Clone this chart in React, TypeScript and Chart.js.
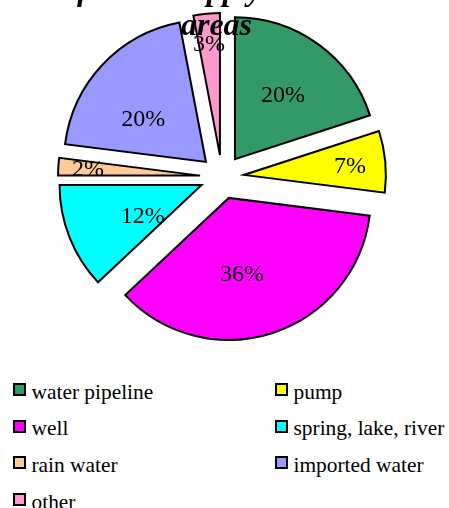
import React, { useEffect, useLayoutEffect, useRef, useState } from "react";
import { Chart, registerables } from "chart.js";

Chart.register(...registerables);

// ---- data ----
const categories = [
  "water pipeline",
  "pump",
  "well",
  "spring, lake, river",
  "rain water",
  "imported water",
  "other",
];
const shares = [20, 7, 36, 12, 2, 20, 3];
const sliceColors = ["#339966", "#FFFF00", "#FF00FF", "#00FFFF", "#FFCC99", "#9999FF", "#FF99CC"];
const titleLines = ["Sources", "of water supply in rural", "areas"];

// ---- label placement (style) ----
const labelRadius = [0.56, 0.75, 0.55, 0.47, 0.79, 0.53, 0.78];
const labelAngleShift = [1.3, 1.1, 8.3, -6.6, -0.7, -9.5, -0.3];

const EXPLODE = 22;
const RADIUS = 142;
const SERIF = "'Liberation Serif', 'Times New Roman', serif";

const explodePlugin = {
  id: "explodeSlices",
  afterDatasetsUpdate(chart: any) {
    const meta = chart.getDatasetMeta(0);
    meta.data.forEach((arc: any) => {
      const mid = (arc.startAngle + arc.endAngle) / 2;
      arc.x += Math.cos(mid) * EXPLODE;
      arc.y += Math.sin(mid) * EXPLODE;
    });
  },
};

const labelPlugin = {
  id: "sliceLabels",
  afterDatasetsDraw(chart: any) {
    const meta = chart.getDatasetMeta(0);
    const ctx = chart.ctx;
    ctx.save();
    ctx.font = `24px ${SERIF}`;
    ctx.fillStyle = "#000";
    ctx.textAlign = "center";
    ctx.textBaseline = "middle";
    meta.data.forEach((arc: any, i: number) => {
      const mid = (arc.startAngle + arc.endAngle) / 2 + (labelAngleShift[i] * Math.PI) / 180;
      const r = arc.outerRadius * labelRadius[i];
      ctx.fillText(`${shares[i]}%`, arc.x + Math.cos(mid) * r, arc.y + Math.sin(mid) * r);
    });
    ctx.restore();
  },
};

export default function App() {
  const canvasRef = useRef<HTMLCanvasElement | null>(null);
  const [err, setErr] = useState<string>("");

  useLayoutEffect(() => {
    const prev = document.body.style.margin;
    document.body.style.margin = "0";
    return () => {
      document.body.style.margin = prev;
    };
  }, []);

  useEffect(() => {
    if (!canvasRef.current) return;
    let chart: any = null;
    try {
      chart = new Chart(canvasRef.current, {
        type: "pie",
        data: {
          labels: categories,
          datasets: [
            {
              data: shares,
              backgroundColor: sliceColors,
              borderColor: "#000000",
              borderWidth: 2,
              borderJoinStyle: "miter",
              radius: RADIUS,
              hoverOffset: 0,
            } as any,
          ],
        },
        options: {
          responsive: false,
          animation: false,
          devicePixelRatio: 1,
          layout: { padding: { left: 0, right: 5, top: 0, bottom: 16 } },
          plugins: {
            legend: { display: false },
            title: { display: false },
            tooltip: { enabled: false },
          },
        } as any,
        plugins: [explodePlugin, labelPlugin],
      });
    } catch (e: any) {
      setErr(String(e && e.stack ? e.stack : e));
    }
    return () => {
      if (chart) chart.destroy();
    };
  }, []);

  const rowStep = 36.7;
  const firstBaseline = 399; // page coords

  return (
    <div style={{ position: "relative", width: 449, height: 508, overflow: "hidden" }}>
      <canvas
        ref={canvasRef}
        width={449}
        height={370}
        style={{ position: "absolute", left: 0, top: 0, width: 449, height: 370 }}
      />
      <div
        style={{
          position: "absolute",
          left: 0,
          top: -63.8,
          width: 433,
          textAlign: "center",
          font: `italic bold 32px ${SERIF}`,
          lineHeight: "35.4px",
          whiteSpace: "nowrap",
          color: "#000",
        }}
      >
        {titleLines.map((t, i) => (
          <div key={i}>{t}</div>
        ))}
      </div>
      {categories.map((name, i) => {
        const row = Math.floor(i / 2);
        const col = i % 2;
        const baseline = firstBaseline + row * rowStep;
        const boxLeft = col === 0 ? 13 : 275;
        return (
          <React.Fragment key={name}>
            <div
              style={{
                position: "absolute",
                left: boxLeft,
                top: baseline - 16,
                width: 13,
                height: 13,
                boxSizing: "border-box",
                border: "2px solid #000",
                background: sliceColors[i],
              }}
            />
            <div
              style={{
                position: "absolute",
                left: boxLeft + 18.5,
                top: baseline - 19.4,
                font: `21.4px ${SERIF}`,
                lineHeight: "24px",
                whiteSpace: "nowrap",
                color: "#000",
              }}
            >
              {name}
            </div>
          </React.Fragment>
        );
      })}
      {err ? (
        <pre style={{ position: "absolute", left: 0, top: 0, fontSize: 10, whiteSpace: "pre-wrap", width: 430 }}>{err}</pre>
      ) : null}
    </div>
  );
}
